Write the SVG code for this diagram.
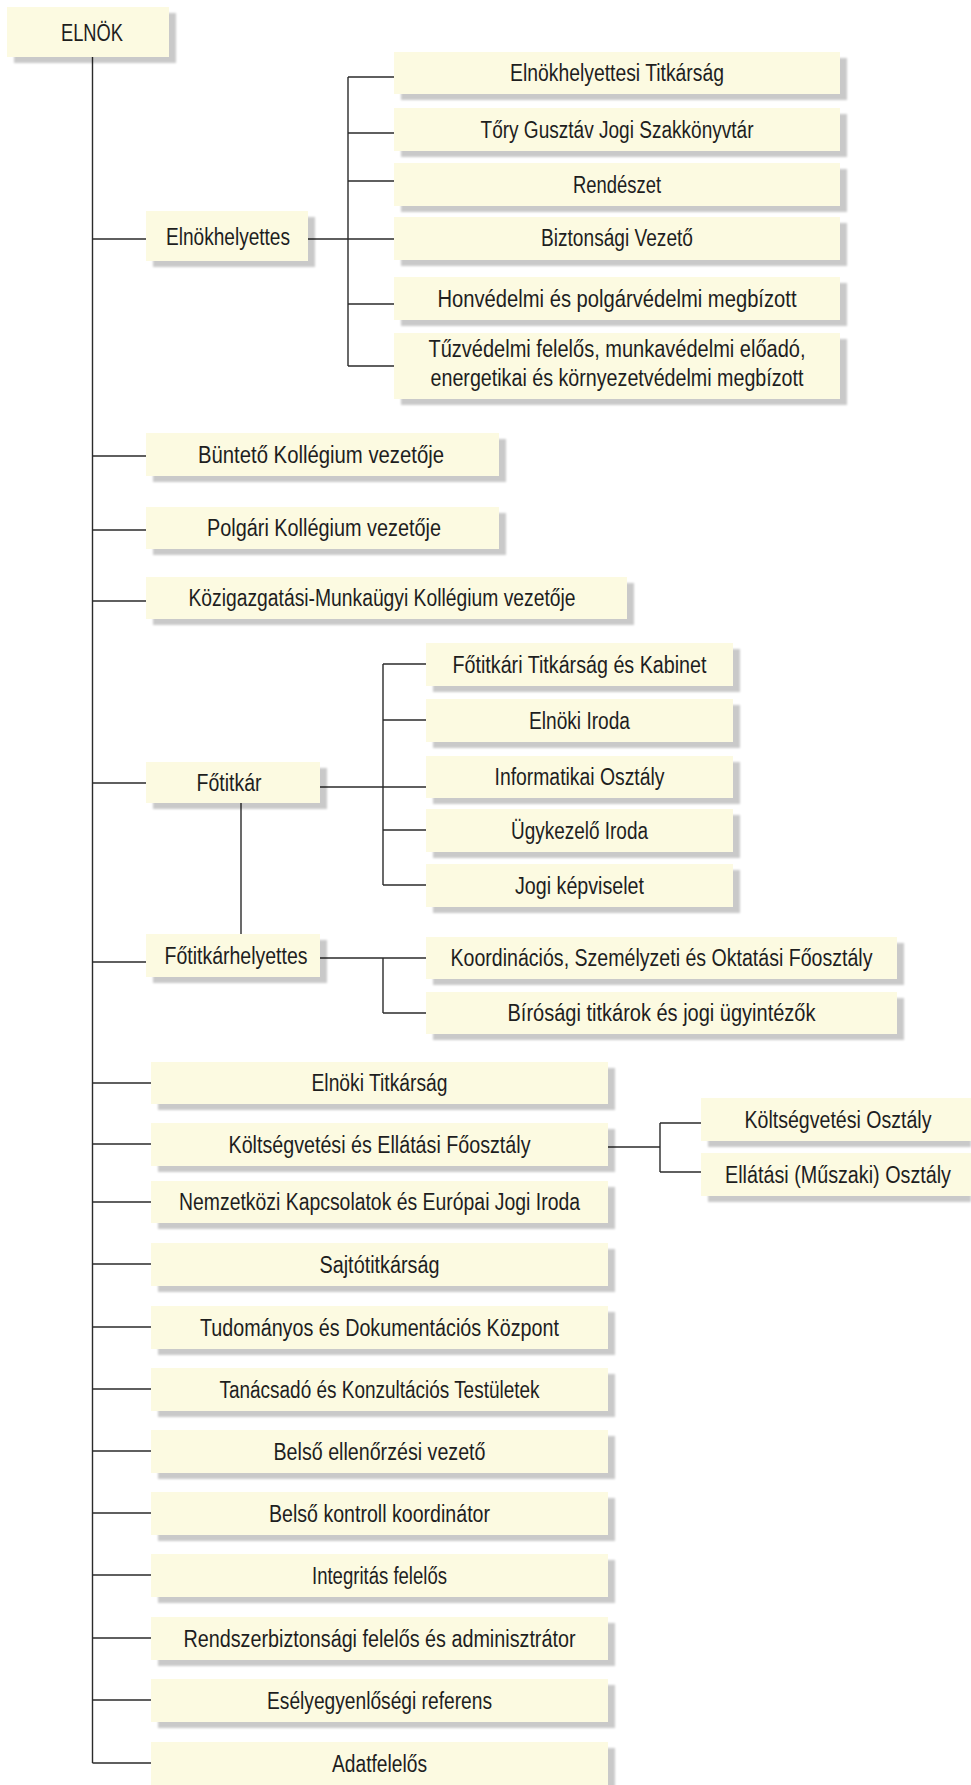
<svg xmlns="http://www.w3.org/2000/svg" width="971" height="1785" viewBox="0 0 971 1785">
<defs>
<filter id="blur" x="-5%" y="-20%" width="110%" height="140%"><feGaussianBlur stdDeviation="1.3"/></filter>
<style>
.box{fill:#FCFAE1}
.sh{fill:#000;fill-opacity:.21;filter:url(#blur)}
.t{font-family:"Liberation Sans",Arial,sans-serif;font-size:23px;fill:#1e1e1e;text-anchor:middle}
.c{stroke:#2b2b2b;stroke-width:1.4;fill:none}
</style>
</defs>
<rect width="971" height="1785" fill="#fff"/>
<g id="connectors" class="c">
<path d="M92.5 57V1763"/>
<path d="M92.5 239H146M308 239H348M348 77V366M348 77H394M348 133H394M348 181H394M348 239H394M348 304H394M348 366H394"/>
<path d="M92.5 456H146M92.5 530H146M92.5 601H146"/>
<path d="M92.5 783H146M320 787H383M383 664V885M383 664H426M383 720H426M383 787H426M383 830H426M383 885H426"/>
<path d="M241 803V934"/>
<path d="M92.5 962H146M320 958H383M383 958V1013M383 958H426M383 1013H426"/>
<path d="M92.5 1083H151M92.5 1144H151M608 1147H660M660 1123V1172M660 1123H701M660 1172H701"/>
<path d="M92.5 1202H151M92.5 1264H151M92.5 1327H151M92.5 1389H151M92.5 1451H151M92.5 1513H151M92.5 1575H151M92.5 1638H151M92.5 1700H151M92.5 1763H151"/>
</g>
<g id="n-elnok"><rect class="sh" x="14" y="13" width="162" height="50"/><rect class="box" x="7" y="7" width="162" height="50"/><text class="t" x="92" y="41" textLength="62" lengthAdjust="spacingAndGlyphs">ELNÖK</text></g>
<g id="n-elnokhelyettes"><rect class="sh" x="153" y="217" width="162" height="50"/><rect class="box" x="146" y="211" width="162" height="50"/><text class="t" x="228" y="245" textLength="124" lengthAdjust="spacingAndGlyphs">Elnökhelyettes</text></g>
<g id="n-eh1"><rect class="sh" x="401" y="58" width="446" height="42"/><rect class="box" x="394" y="52" width="446" height="42"/><text class="t" x="617" y="81" textLength="214" lengthAdjust="spacingAndGlyphs">Elnökhelyettesi Titkárság</text></g>
<g id="n-eh2"><rect class="sh" x="401" y="114" width="446" height="43"/><rect class="box" x="394" y="108" width="446" height="43"/><text class="t" x="617" y="137.5" textLength="273" lengthAdjust="spacingAndGlyphs">Tőry Gusztáv Jogi Szakkönyvtár</text></g>
<g id="n-eh3"><rect class="sh" x="401" y="169" width="446" height="43"/><rect class="box" x="394" y="163" width="446" height="43"/><text class="t" x="617" y="193" textLength="88" lengthAdjust="spacingAndGlyphs">Rendészet</text></g>
<g id="n-eh4"><rect class="sh" x="401" y="223" width="446" height="43"/><rect class="box" x="394" y="217" width="446" height="43"/><text class="t" x="617" y="246" textLength="152" lengthAdjust="spacingAndGlyphs">Biztonsági Vezető</text></g>
<g id="n-eh5"><rect class="sh" x="401" y="283" width="446" height="43"/><rect class="box" x="394" y="277" width="446" height="43"/><text class="t" x="617" y="306.5" textLength="359" lengthAdjust="spacingAndGlyphs">Honvédelmi és polgárvédelmi megbízott</text></g>
<g id="n-eh6"><rect class="sh" x="401" y="339" width="446" height="66"/><rect class="box" x="394" y="333" width="446" height="66"/><text class="t" x="617" y="357" textLength="377" lengthAdjust="spacingAndGlyphs">Tűzvédelmi felelős, munkavédelmi előadó,</text><text class="t" x="617" y="386" textLength="373" lengthAdjust="spacingAndGlyphs">energetikai és környezetvédelmi megbízott</text></g>
<g id="n-buntet"><rect class="sh" x="153" y="439" width="353" height="43"/><rect class="box" x="146" y="433" width="353" height="43"/><text class="t" x="321" y="462.5" textLength="246" lengthAdjust="spacingAndGlyphs">Büntető Kollégium vezetője</text></g>
<g id="n-polgari"><rect class="sh" x="153" y="513" width="353" height="42"/><rect class="box" x="146" y="507" width="353" height="42"/><text class="t" x="324" y="536" textLength="234" lengthAdjust="spacingAndGlyphs">Polgári Kollégium vezetője</text></g>
<g id="n-kozig"><rect class="sh" x="153" y="583" width="481" height="42"/><rect class="box" x="146" y="577" width="481" height="42"/><text class="t" x="382" y="606" textLength="387" lengthAdjust="spacingAndGlyphs">Közigazgatási-Munkaügyi Kollégium vezetője</text></g>
<g id="n-fotitkar"><rect class="sh" x="153" y="768" width="174" height="41"/><rect class="box" x="146" y="762" width="174" height="41"/><text class="t" x="229" y="790.5" textLength="65" lengthAdjust="spacingAndGlyphs">Főtitkár</text></g>
<g id="n-ft1"><rect class="sh" x="433" y="649" width="307" height="43"/><rect class="box" x="426" y="643" width="307" height="43"/><text class="t" x="579.5" y="672.5" textLength="254" lengthAdjust="spacingAndGlyphs">Főtitkári Titkárság és Kabinet</text></g>
<g id="n-ft2"><rect class="sh" x="433" y="705" width="307" height="43"/><rect class="box" x="426" y="699" width="307" height="43"/><text class="t" x="579.5" y="728.5" textLength="101" lengthAdjust="spacingAndGlyphs">Elnöki Iroda</text></g>
<g id="n-ft3"><rect class="sh" x="433" y="762" width="307" height="42"/><rect class="box" x="426" y="756" width="307" height="42"/><text class="t" x="579.5" y="785" textLength="170" lengthAdjust="spacingAndGlyphs">Informatikai Osztály</text></g>
<g id="n-ft4"><rect class="sh" x="433" y="815" width="307" height="43"/><rect class="box" x="426" y="809" width="307" height="43"/><text class="t" x="579.5" y="838.5" textLength="137" lengthAdjust="spacingAndGlyphs">Ügykezelő Iroda</text></g>
<g id="n-ft5"><rect class="sh" x="433" y="870" width="307" height="43"/><rect class="box" x="426" y="864" width="307" height="43"/><text class="t" x="579.5" y="893.5" textLength="129" lengthAdjust="spacingAndGlyphs">Jogi képviselet</text></g>
<g id="n-fotitkarhelyettes"><rect class="sh" x="153" y="940" width="174" height="43"/><rect class="box" x="146" y="934" width="174" height="43"/><text class="t" x="236" y="963.5" textLength="143" lengthAdjust="spacingAndGlyphs">Főtitkárhelyettes</text></g>
<g id="n-fth1"><rect class="sh" x="433" y="943" width="471" height="42"/><rect class="box" x="426" y="937" width="471" height="42"/><text class="t" x="661.5" y="966" textLength="422" lengthAdjust="spacingAndGlyphs">Koordinációs, Személyzeti és Oktatási Főosztály</text></g>
<g id="n-fth2"><rect class="sh" x="433" y="998" width="471" height="42"/><rect class="box" x="426" y="992" width="471" height="42"/><text class="t" x="661.5" y="1021" textLength="308" lengthAdjust="spacingAndGlyphs">Bírósági titkárok és jogi ügyintézők</text></g>
<g id="n-elnoki-titkarsag"><rect class="sh" x="158" y="1068" width="457" height="42"/><rect class="box" x="151" y="1062" width="457" height="42"/><text class="t" x="379.5" y="1091" textLength="136" lengthAdjust="spacingAndGlyphs">Elnöki Titkárság</text></g>
<g id="n-koltsegvetesi-fo"><rect class="sh" x="158" y="1129" width="457" height="43"/><rect class="box" x="151" y="1123" width="457" height="43"/><text class="t" x="379.5" y="1152.5" textLength="302" lengthAdjust="spacingAndGlyphs">Költségvetési és Ellátási Főosztály</text></g>
<g id="n-koltsegvetesi-osztaly"><rect class="sh" x="708" y="1104" width="263" height="43"/><rect class="box" x="701" y="1098" width="270" height="43"/><text class="t" x="838" y="1127.5" textLength="187" lengthAdjust="spacingAndGlyphs">Költségvetési Osztály</text></g>
<g id="n-ellatasi-osztaly"><rect class="sh" x="708" y="1159" width="263" height="43"/><rect class="box" x="701" y="1153" width="270" height="43"/><text class="t" x="838" y="1182.5" textLength="226" lengthAdjust="spacingAndGlyphs">Ellátási (Műszaki) Osztály</text></g>
<g id="n-nemzetkozi"><rect class="sh" x="158" y="1187" width="457" height="42"/><rect class="box" x="151" y="1181" width="457" height="42"/><text class="t" x="379.5" y="1210" textLength="401" lengthAdjust="spacingAndGlyphs">Nemzetközi Kapcsolatok és Európai Jogi Iroda</text></g>
<g id="n-sajto"><rect class="sh" x="158" y="1249" width="457" height="43"/><rect class="box" x="151" y="1243" width="457" height="43"/><text class="t" x="379.5" y="1272.5" textLength="120" lengthAdjust="spacingAndGlyphs">Sajtótitkárság</text></g>
<g id="n-tudomanyos"><rect class="sh" x="158" y="1312" width="457" height="43"/><rect class="box" x="151" y="1306" width="457" height="43"/><text class="t" x="379.5" y="1335.5" textLength="359" lengthAdjust="spacingAndGlyphs">Tudományos és Dokumentációs Központ</text></g>
<g id="n-tanacsado"><rect class="sh" x="158" y="1374" width="457" height="43"/><rect class="box" x="151" y="1368" width="457" height="43"/><text class="t" x="379.5" y="1397.5" textLength="320" lengthAdjust="spacingAndGlyphs">Tanácsadó és Konzultációs Testületek</text></g>
<g id="n-belso-ellenorzesi"><rect class="sh" x="158" y="1436" width="457" height="43"/><rect class="box" x="151" y="1430" width="457" height="43"/><text class="t" x="379.5" y="1459.5" textLength="212" lengthAdjust="spacingAndGlyphs">Belső ellenőrzési vezető</text></g>
<g id="n-belso-kontroll"><rect class="sh" x="158" y="1498" width="457" height="43"/><rect class="box" x="151" y="1492" width="457" height="43"/><text class="t" x="379.5" y="1521.5" textLength="221" lengthAdjust="spacingAndGlyphs">Belső kontroll koordinátor</text></g>
<g id="n-integritas"><rect class="sh" x="158" y="1560" width="457" height="43"/><rect class="box" x="151" y="1554" width="457" height="43"/><text class="t" x="379.5" y="1583.5" textLength="135" lengthAdjust="spacingAndGlyphs">Integritás felelős</text></g>
<g id="n-rendszerbiztonsagi"><rect class="sh" x="158" y="1623" width="457" height="43"/><rect class="box" x="151" y="1617" width="457" height="43"/><text class="t" x="379.5" y="1646.5" textLength="392" lengthAdjust="spacingAndGlyphs">Rendszerbiztonsági felelős és adminisztrátor</text></g>
<g id="n-eselyegyenlosegi"><rect class="sh" x="158" y="1685" width="457" height="43"/><rect class="box" x="151" y="1679" width="457" height="43"/><text class="t" x="379.5" y="1708.5" textLength="225" lengthAdjust="spacingAndGlyphs">Esélyegyenlőségi referens</text></g>
<g id="n-adatfelelos"><rect class="sh" x="158" y="1748" width="457" height="43"/><rect class="box" x="151" y="1742" width="457" height="43"/><text class="t" x="379.5" y="1771.5" textLength="95" lengthAdjust="spacingAndGlyphs">Adatfelelős</text></g>
</svg>
